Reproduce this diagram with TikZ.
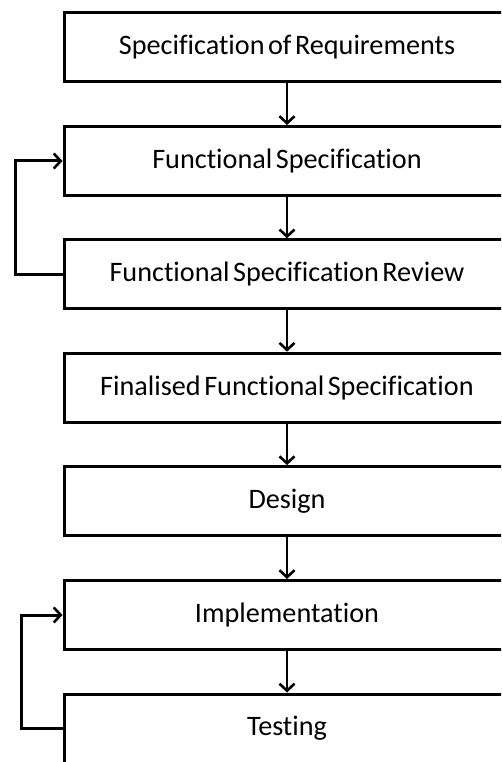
\documentclass[tikz,border=0pt]{standalone}
\usepackage{fontspec}
\setmainfont{Carlito}[Ligatures=NoCommon, WordSpace=0.55]
\usetikzlibrary{arrows.meta}
\tikzset{
  stage/.style={draw=black, line width=3pt, fill=white, minimum width=446pt,
    minimum height=69pt, inner sep=0pt, font=\fontsize{28.2}{33}\selectfont},
  flow/.style={line width=2.8pt, -{Straight Barb[length=7pt,width=15pt,line width=2.6pt]}},
  loop/.style={line width=3pt, -{Straight Barb[length=7pt,width=15pt,line width=2.6pt]}}
}
\begin{document}
\begin{tikzpicture}[x=1pt,y=-1pt]
  \useasboundingbox (0,0) rectangle (501,762);
  \clip (0,0) rectangle (501,762);
  \fill[white] (0,0) rectangle (501,762);

  % stages of the process, top to bottom
  \node[stage] (req)  at (287,47.5)  {Specification of Requirements};
  \node[stage] (fs)   at (287,161)   {Functional Specification};
  \node[stage] (fsr)  at (287,274.3) {Functional Specification Review};
  \node[stage] (ffs)  at (287,387.7) {Finalised Functional Specification};
  \node[stage] (des)  at (287,501.1) {Design};
  \node[stage] (impl) at (287,615)   {Implementation};
  \node[stage] (test) at (287,728.5) {Testing};

  % forward flow
  \draw[flow] (req.south)  -- (fs.north);
  \draw[flow] (fs.south)   -- (fsr.north);
  \draw[flow] (fsr.south)  -- (ffs.north);
  \draw[flow] (ffs.south)  -- (des.north);
  \draw[flow] (des.south)  -- (impl.north);
  \draw[flow] (impl.south) -- (test.north);

  % feedback loops
  \coordinate (l1) at (15,0);
  \coordinate (l2) at (21,0);
  \draw[loop] (fsr.west) -- (fsr.west -| l1) -- (fs.west -| l1) -- (fs.west);
  \draw[loop] (test.west) -- (test.west -| l2) -- (impl.west -| l2) -- (impl.west);
\end{tikzpicture}
\end{document}
